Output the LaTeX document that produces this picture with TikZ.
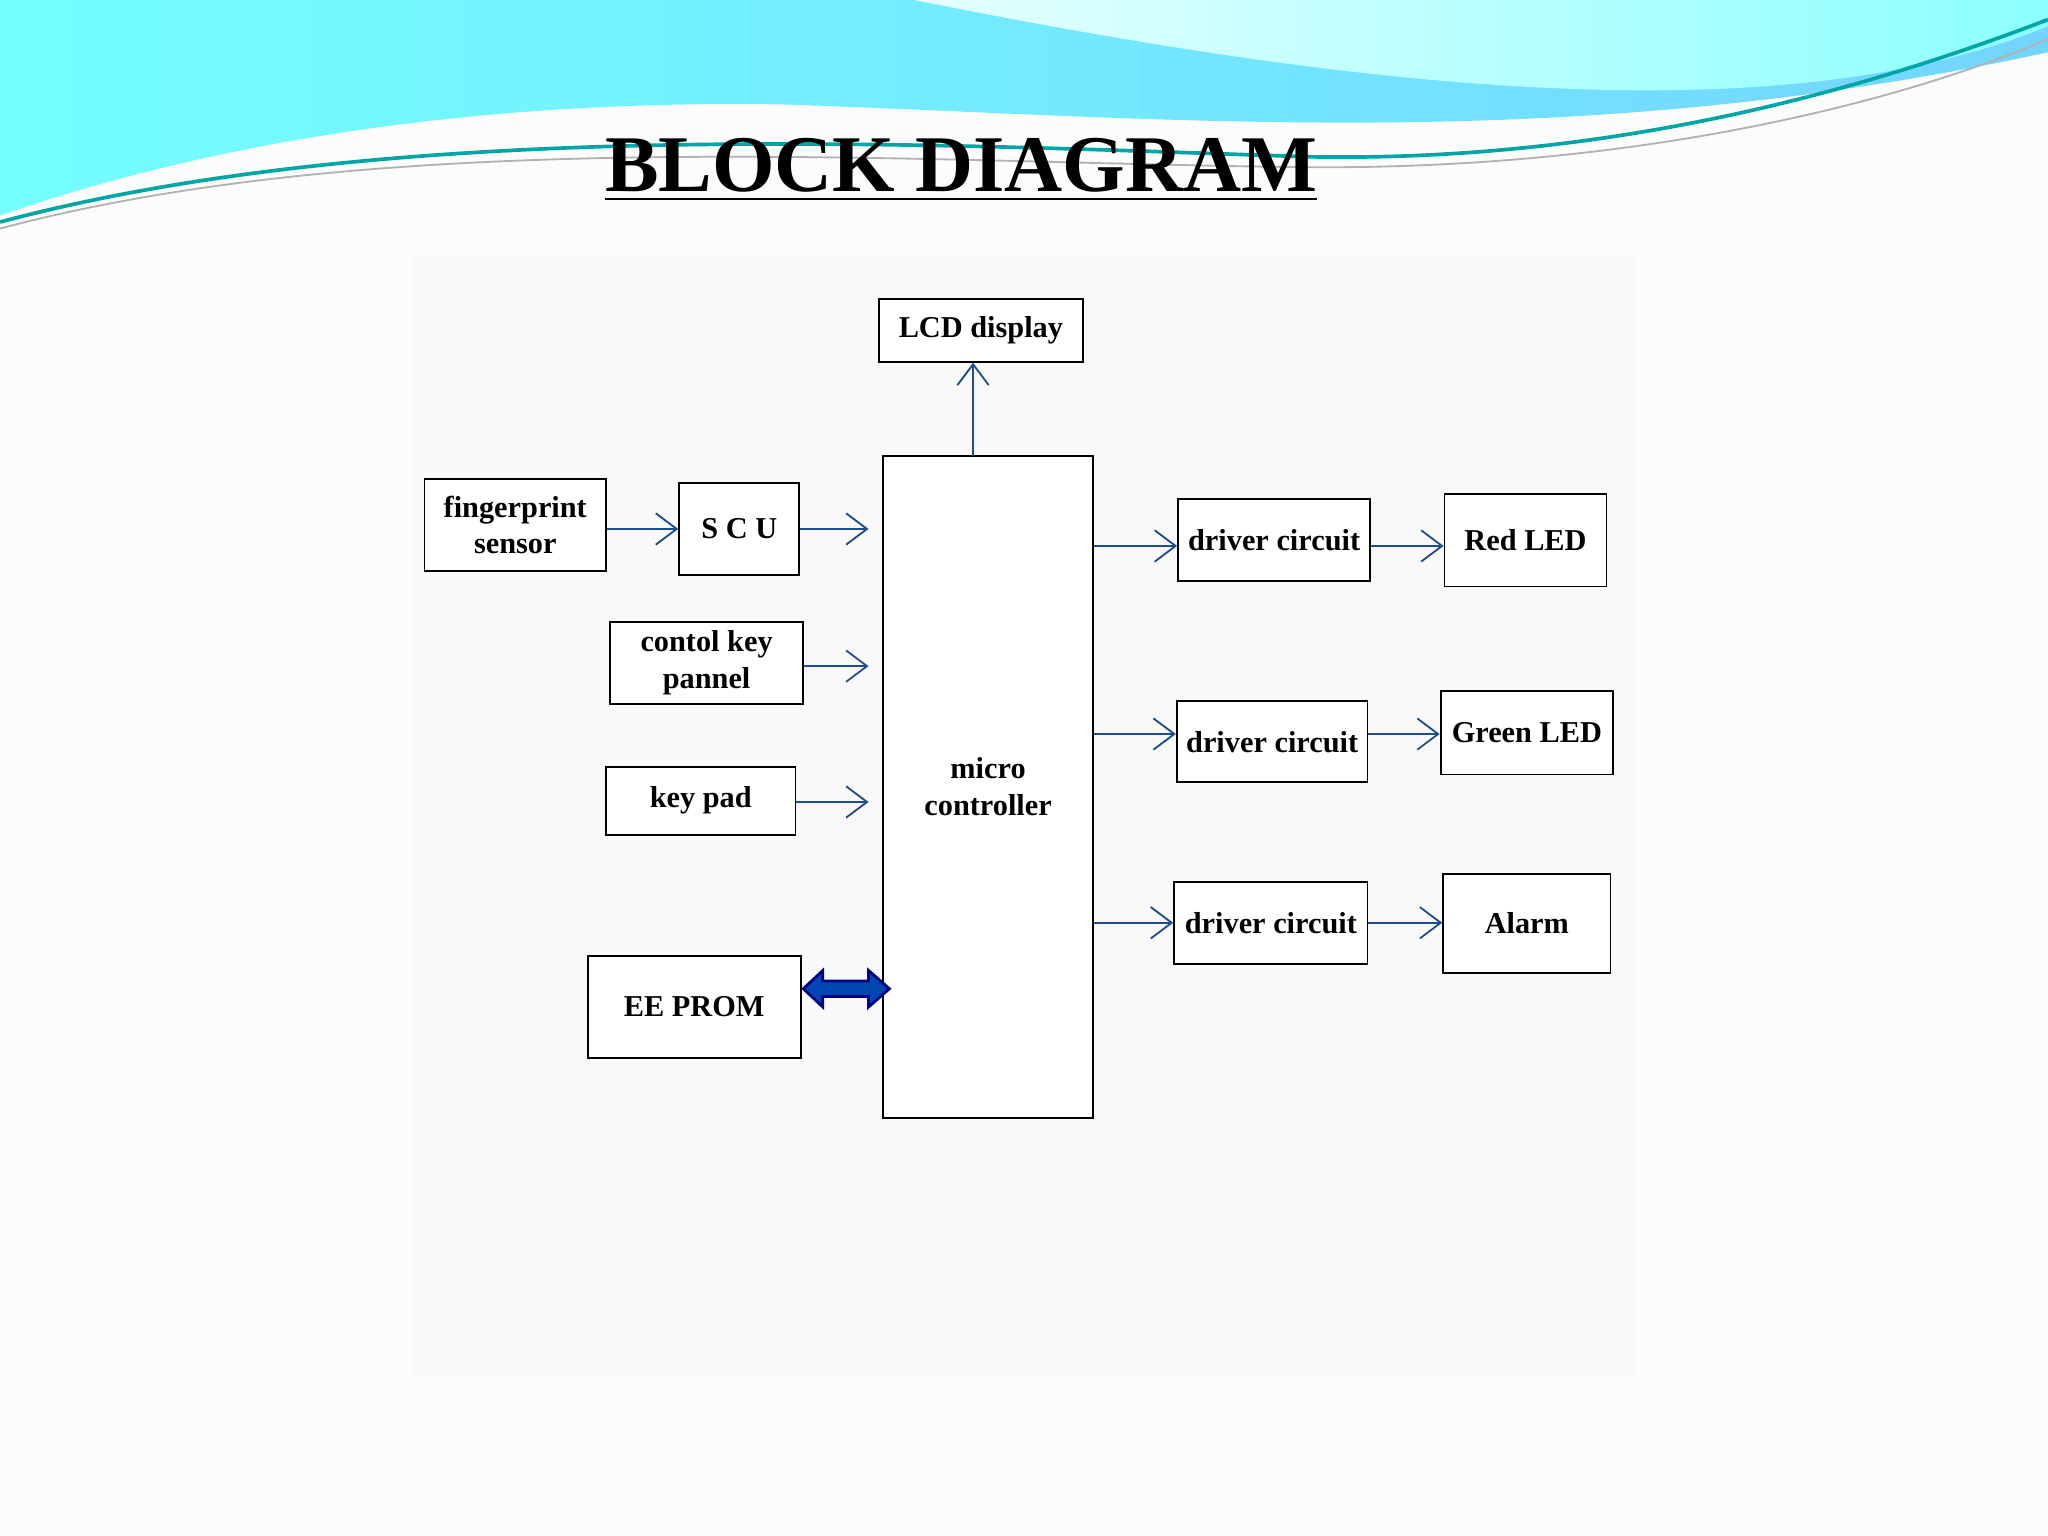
\documentclass[tikz,border=0pt]{standalone}
\usepackage{fontspec}
\setmainfont{Liberation Serif}
\usetikzlibrary{arrows.meta}
\definecolor{wireblue}{RGB}{31,78,140}
\tikzstyle{block}=[rectangle,
    draw=black,
    thin,
    fill=white,
    inner sep=1pt,
    align=center,
    font=\fontsize{6.6}{8}\selectfont\bfseries]
\tikzstyle{wire}=[draw=wireblue,thin,-{Straight Barb[length=1.6mm,width=2.4mm]}]

\begin{document}
\begin{tikzpicture}[x=0.01cm,y=-0.01cm]
                \useasboundingbox (0,0) rectangle (1568,1176);
                \fill[white!98!gray] (0,0) rectangle (1568,1176);
                \fill[white!95!gray] (315,195) rectangle (1253,1053);
                % top waves
                \shade[left color=cyan!55!white, right color=blue!30!cyan!55]
                    (0,0) -- (1568,0) -- (1568,40) .. controls (1200,120) and (900,90) .. (600,80)
                    .. controls (300,75) and (100,130) .. (0,165) -- cycle;
                \shade[left color=cyan!10!white, right color=cyan!45!white]
                    (700,0) -- (1568,0) -- (1568,20) .. controls (1350,110) and (1000,60) .. (700,0);
                \draw[teal!70!cyan,thick] (0,170) .. controls (300,90) and (700,110) .. (1000,120)
                    .. controls (1250,125) and (1450,60) .. (1568,15);
                \draw[gray!60] (0,175) .. controls (300,95) and (700,125) .. (1000,128)
                    .. controls (1250,130) and (1450,80) .. (1568,30);
                % title
                \node (title) at (736,130) {\fontsize{17.5}{21}\selectfont\bfseries\underline{BLOCK DIAGRAM}};
                % blocks
                \node (lcd) [block,minimum width=1.56cm,minimum height=0.48cm] at (751,253) {LCD display};
                \node (fp) [block,minimum width=1.39cm,minimum height=0.7cm] at (394.5,402) {fingerprint\\sensor};
                \node (scu) [block,minimum width=0.92cm,minimum height=0.7cm] at (566,405) {S C U};
                \node (ckp) [block,minimum width=1.48cm,minimum height=0.63cm] at (541,507.5) {contol key\\pannel};
                \node (kp) [block,minimum width=1.45cm,minimum height=0.52cm] at (536.5,613) {key pad};
                \node (eep) [block,minimum width=1.63cm,minimum height=0.78cm] at (531.5,771) {EE PROM};
                \node (mc) [block,minimum width=1.61cm,minimum height=5.07cm] at (756.5,602.5) {micro\\controller};
                \node (drv1) [block,minimum width=1.47cm,minimum height=0.63cm] at (975.5,413.5) {driver circuit};
                \node (drv2) [block,minimum width=1.46cm,minimum height=0.62cm] at (974,568) {driver circuit};
                \node (drv3) [block,minimum width=1.48cm,minimum height=0.63cm] at (973,706.5) {driver circuit};
                \node (red) [block,minimum width=1.24cm,minimum height=0.71cm] at (1168,413.5) {Red LED};
                \node (green) [block,minimum width=1.32cm,minimum height=0.64cm] at (1169,561) {Green LED};
                \node (alarm) [block,minimum width=1.28cm,minimum height=0.76cm] at (1169,707) {Alarm};
                % connectors
                \coordinate (mcfp) at (665,405);
                \coordinate (mcck) at (665,510);
                \coordinate (mckp) at (665,614);
                \coordinate (mctop) at (745,349);
                \draw [wire] (fp.east |- scu) -- (scu);
                \draw [wire] (scu) -- (mcfp);
                \draw [wire] (ckp.east |- mcck) -- (mcck);
                \draw [wire] (kp.east |- mckp) -- (mckp);
                \draw [wire] (mctop) -- (mctop |- lcd.south);
                \draw [wire] (mc.east |- 0,418) -- (drv1.west |- 0,418);
                \draw [wire] (drv1.east |- 0,418) -- (red.west |- 0,418);
                \draw [wire] (mc.east |- 0,562) -- (drv2.west |- 0,562);
                \draw [wire] (drv2.east |- 0,562) -- (green.west |- 0,562);
                \draw [wire] (mc.east |- drv3) -- (drv3);
                \draw [wire] (drv3) -- (alarm.west |- drv3);
                \draw [draw=blue!50!black,fill=blue!60!cyan!70!black,line width=0.6pt]
                    (615,757) -- (630,743) -- (630,751) -- (665,751) -- (665,743) -- (681,757)
                    -- (665,771) -- (665,763) -- (630,763) -- (630,771) -- cycle;
            \end{tikzpicture}
\end{document}
